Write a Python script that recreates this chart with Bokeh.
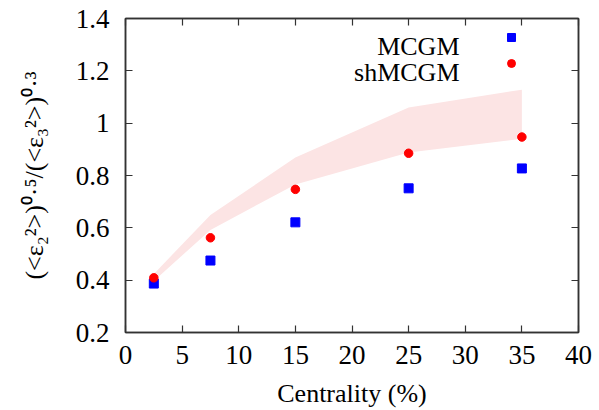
from bokeh.plotting import figure
from bokeh.models import Range1d, LinearAxis, FixedTicker, Label, Legend, LegendItem
from bokeh.core.properties import value
from bokeh.embed import file_html
from bokeh.resources import INLINE

# ---- data ----
centrality = [2.5, 7.5, 15, 25, 35]
mcgm = [0.387, 0.475, 0.621, 0.751, 0.827]
shmcgm = [0.409, 0.562, 0.747, 0.885, 0.947]
band_low = [0.397, 0.592, 0.766, 0.888, 0.940]
band_high = [0.424, 0.649, 0.869, 1.060, 1.128]

x_ticks = [0, 5, 10, 15, 20, 25, 30, 35, 40]
y_ticks = [0.2, 0.4, 0.6, 0.8, 1.0, 1.2, 1.4]
y_tick_labels = ["0.2", "0.4", "0.6", "0.8", "1", "1.2", "1.4"]
series_names = ["MCGM", "shMCGM"]
x_title = "Centrality (%)"
y_title = "(<ε\u2082\u00b2>)\u2070\u00b7\u2075/(<ε\u2083\u00b2>)\u2070\u00b7\u00b3"

FONT = "Liberation Serif"
AX = "#333333"

p = figure(width=599, height=410, x_range=Range1d(0, 40), y_range=Range1d(0.2, 1.4),
           output_backend="svg", toolbar_location=None,
           min_border_left=125, min_border_right=21, min_border_top=18, min_border_bottom=78)
p.xgrid.grid_line_color = None
p.ygrid.grid_line_color = None
p.outline_line_color = AX
p.outline_line_width = 1.5
p.background_fill_color = "white"
p.border_fill_color = "white"

bottom = p.below[0]
left = p.left[0]
bottom.ticker = FixedTicker(ticks=x_ticks)
left.ticker = FixedTicker(ticks=y_ticks)
left.major_label_overrides = dict(zip(y_ticks, y_tick_labels))

top = LinearAxis(ticker=FixedTicker(ticks=x_ticks))
right = LinearAxis(ticker=FixedTicker(ticks=y_ticks))
p.add_layout(top, "above")
p.add_layout(right, "right")

p.axis.major_tick_in = 7
p.axis.major_tick_out = 0
p.axis.minor_tick_line_color = None
p.axis.axis_line_color = AX
p.axis.axis_line_width = 1.5
p.axis.major_tick_line_color = AX
p.axis.major_tick_line_width = 1.2
p.axis.major_label_text_font = FONT
p.axis.major_label_text_font_size = "27px"
p.axis.major_label_text_color = "black"
p.axis.axis_label_text_font = FONT
p.axis.axis_label_text_font_size = "26px"
p.axis.axis_label_text_font_style = "normal"
p.axis.axis_label_text_color = "black"

bottom.major_label_standoff = 13
left.major_label_standoff = 16
bottom.axis_label = x_title
bottom.axis_label_standoff = 12
left.axis_label = y_title
left.axis_label_standoff = 24

for ax, tk in ((top, x_ticks), (right, y_ticks)):
    ax.major_label_text_font_size = "0px"
    ax.major_label_standoff = 0
    ax.major_label_overrides = {t: "" for t in tk}

# ---- marks ----
p.varea(x=centrality, y1=band_low, y2=band_high, fill_color="#fce4e4", fill_alpha=1.0)
r_m = p.scatter(centrality, mcgm, marker="square", size=9, fill_color="#0000ff", line_color="#0000ff")
r_s = p.scatter(centrality, shmcgm, marker="circle", size=8.5, fill_color="#ff0000", line_color="#ff0000")

# ---- legend: markers via Legend, text to their left ----
legend = Legend(items=[LegendItem(label=value(""), renderers=[r_m]),
                       LegendItem(label=value(""), renderers=[r_s])],
                location=(376.3, 255.7), glyph_width=20, glyph_height=26,
                label_width=0, label_height=0, label_standoff=0, padding=0, spacing=0,
                margin=0, border_line_color=None, background_fill_alpha=0,
                label_text_font_size="1px")
p.add_layout(legend)
for name, yy in zip(series_names, (286, 260.3)):
    p.add_layout(Label(x=334, y=yy, x_units="screen", y_units="screen", text=name,
                       text_align="right", text_baseline="alphabetic",
                       text_font=FONT, text_font_size="26px", text_color="black"))

open("out.html", "w").write(file_html(p, INLINE))
